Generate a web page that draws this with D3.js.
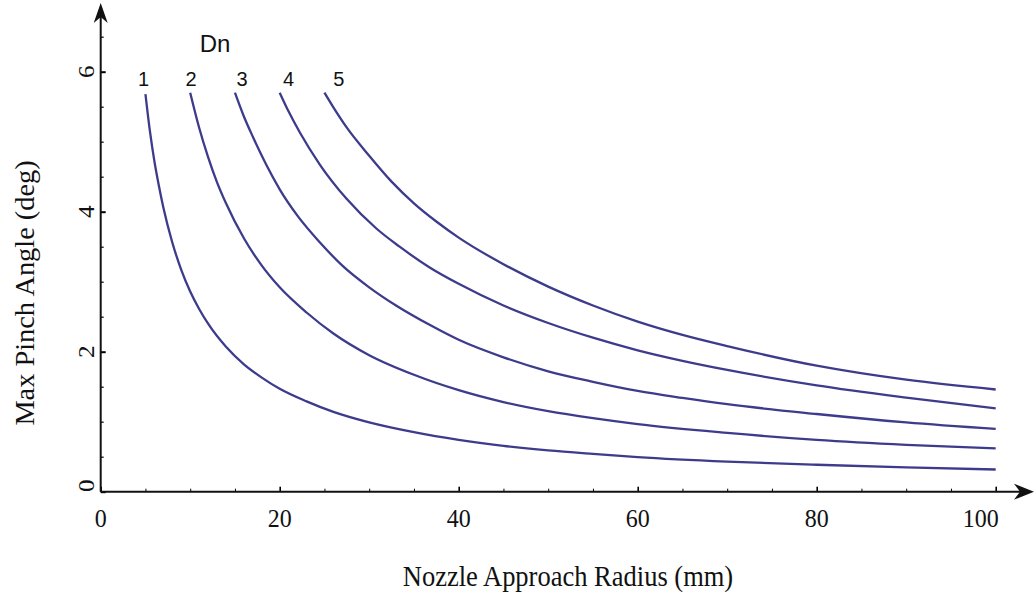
<!DOCTYPE html>
<html>
<head>
<meta charset="utf-8">
<script src="https://cdn.jsdelivr.net/npm/d3@7"></script>
<style>
  html, body { margin: 0; padding: 0; background: #fff; }
  svg { display: block; }
</style>
</head>
<body>
<svg id="chart" width="1036" height="592"></svg>
<script>
// Max pinch angle versus nozzle approach radius, one curve per Dn value
const dnValues = [1, 2, 3, 4, 5];

const radius1 = [5, 5.5, 6, 6.5, 7, 8, 9, 10, 11, 12, 14, 16, 18, 20, 23, 26, 30, 35, 40, 45, 50, 55, 60, 70, 80, 90, 100];
const angle1  = [5.68, 5.15, 4.72, 4.37, 4.06, 3.56, 3.17, 2.86, 2.61, 2.4, 2.07, 1.82, 1.63, 1.47, 1.29, 1.14, 0.99, 0.85, 0.74, 0.655, 0.59, 0.54, 0.495, 0.43, 0.385, 0.348, 0.317];

const radius2 = [10, 11, 12, 13, 14, 16, 18, 20, 23, 26, 30, 35, 40, 45, 50, 55, 60, 70, 80, 90, 100];
const angle2  = [5.7, 5.2, 4.78, 4.42, 4.12, 3.62, 3.23, 2.92, 2.56, 2.26, 1.95, 1.67, 1.45, 1.28, 1.15, 1.05, 0.965, 0.84, 0.74, 0.67, 0.62];

const radius3 = [15, 16, 17, 18.5, 20, 22, 24.5, 27, 30, 33, 36.8, 40, 45, 50, 55, 60, 65, 70, 80, 90, 100];
const angle3  = [5.7, 5.36, 5.07, 4.67, 4.32, 3.94, 3.56, 3.23, 2.92, 2.66, 2.38, 2.17, 1.92, 1.72, 1.57, 1.44, 1.34, 1.25, 1.11, 0.99, 0.896];

const radius4 = [20, 21, 22.3, 24.5, 27.5, 30.8, 33.4, 36.8, 40, 45, 50, 55, 60, 65, 70, 80, 90, 100];
const angle4  = [5.7, 5.43, 5.12, 4.67, 4.18, 3.76, 3.5, 3.2, 2.97, 2.66, 2.41, 2.2, 2.02, 1.87, 1.74, 1.52, 1.345, 1.19];

const radius5 = [25, 26, 27.5, 30, 32.5, 35, 37.5, 40, 45, 50, 55, 60, 65, 70, 80, 90, 100];
const angle5  = [5.7, 5.49, 5.2, 4.8, 4.43, 4.12, 3.86, 3.63, 3.25, 2.93, 2.66, 2.43, 2.24, 2.08, 1.8, 1.6, 1.46];

// where each Dn number sits above its curve (radius, mm)
const labelRadius = [4.8, 10.1, 15.8, 21, 26.6];

const xMajorTicks = [0, 20, 40, 60, 80, 100];
const yMajorTicks = [0, 2, 4, 6];

const radii = [radius1, radius2, radius3, radius4, radius5];
const angles = [angle1, angle2, angle3, angle4, angle5];
const series = dnValues.map((dn, i) => ({
  dn,
  points: radii[i].map((r, j) => [r, angles[i][j]])
}));

const svg = d3.select("#chart");
const x = d3.scaleLinear().domain([0, 100]).range([100.7, 995.7]);
const y = d3.scaleLinear().domain([0, 7]).range([491.7, 1.7]);

const serif = "'Liberation Serif', 'Times New Roman', serif";
const sans = "'Liberation Sans', Arial, sans-serif";
const lineColor = "#3d3b8c";
const inkColor = "#111";

// curves
const line = d3.line()
  .x(d => x(d[0]))
  .y(d => y(d[1]))
  .curve(d3.curveMonotoneX);

svg.append("g")
  .selectAll("path")
  .data(series)
  .join("path")
  .attr("d", d => line(d.points))
  .attr("fill", "none")
  .attr("stroke", lineColor)
  .attr("stroke-width", 2.3)
  .attr("stroke-linejoin", "round");

// x axis: minor ticks every 5, major every 20, pointing up into the plot
const xAxisG = svg.append("g").attr("transform", `translate(0,${y(0)})`);
xAxisG.call(d3.axisBottom(x).tickValues(d3.range(0, 101, 5)).tickSize(-3).tickFormat(""));
xAxisG.call(g => g.selectAll(".tick line")
  .attr("stroke", "#000")
  .attr("stroke-width", d => d % 20 === 0 ? 1.6 : 1)
  .attr("y2", d => d % 20 === 0 ? -5 : -3));
xAxisG.select(".domain").remove();

// y axis: minor ticks every 0.5, major every 2, pointing right into the plot
const yAxisG = svg.append("g").attr("transform", `translate(${x(0)},0)`);
yAxisG.call(d3.axisLeft(y).tickValues(d3.range(0, 6.6, 0.5)).tickSize(-3).tickFormat(""));
yAxisG.call(g => g.selectAll(".tick line")
  .attr("stroke", "#000")
  .attr("stroke-width", d => d % 2 === 0 ? 2 : 1.2)
  .attr("x2", d => d % 2 === 0 ? 5 : 3));
yAxisG.select(".domain").remove();

// axis lines with arrowheads
svg.append("line")
  .attr("x1", x(0)).attr("y1", y(0))
  .attr("x2", 1022).attr("y2", y(0))
  .attr("stroke", inkColor).attr("stroke-width", 2);
svg.append("line")
  .attr("x1", x(0)).attr("y1", y(0))
  .attr("x2", x(0)).attr("y2", 14)
  .attr("stroke", inkColor).attr("stroke-width", 2);

const xTip = 1034, yAxisY = y(0);
svg.append("path")
  .attr("d", `M${xTip},${yAxisY} L${xTip - 20},${yAxisY - 8} L${xTip - 14},${yAxisY} L${xTip - 20},${yAxisY + 8} Z`)
  .attr("fill", inkColor);
const yTip = 3, yAxisX = x(0);
svg.append("path")
  .attr("d", `M${yAxisX},${yTip} L${yAxisX - 7},${yTip + 20} L${yAxisX},${yTip + 14} L${yAxisX + 7},${yTip + 20} Z`)
  .attr("fill", inkColor);

// x tick labels
svg.append("g")
  .selectAll("text")
  .data(xMajorTicks)
  .join("text")
  .attr("transform", d => `translate(${x(d) + (d === 100 ? -15 : 0)},527) scale(1,1.08)`)
  .attr("text-anchor", "middle")
  .attr("font-family", serif)
  .attr("font-size", 24)
  .attr("fill", inkColor)
  .text(d => d);

// y tick labels, turned to read upward
svg.append("g")
  .selectAll("text")
  .data(yMajorTicks)
  .join("text")
  .attr("transform", d => `translate(94,${y(d) - (d === 0 ? 6 : 0)}) rotate(-90) scale(1.05,1)`)
  .attr("text-anchor", "middle")
  .attr("font-family", serif)
  .attr("font-size", 24)
  .attr("fill", inkColor)
  .text(d => d);

// axis titles
svg.append("text")
  .attr("transform", "translate(568,586) scale(1,1.08)")
  .attr("text-anchor", "middle")
  .attr("font-family", serif)
  .attr("font-size", 26.5)
  .attr("fill", inkColor)
  .text("Nozzle Approach Radius (mm)");

svg.append("text")
  .attr("transform", "translate(34,293) rotate(-90) scale(1.05,1)")
  .attr("text-anchor", "middle")
  .attr("font-family", serif)
  .attr("font-size", 27)
  .attr("fill", inkColor)
  .text("Max Pinch Angle (deg)");

// Dn heading and curve numbers
svg.append("text")
  .attr("x", 215)
  .attr("y", 52)
  .attr("text-anchor", "middle")
  .attr("font-family", sans)
  .attr("font-size", 24)
  .attr("fill", inkColor)
  .text("Dn");

svg.append("g")
  .selectAll("text")
  .data(series)
  .join("text")
  .attr("x", (d, i) => x(labelRadius[i]))
  .attr("y", 86)
  .attr("text-anchor", "middle")
  .attr("font-family", sans)
  .attr("font-size", 20)
  .attr("fill", inkColor)
  .text(d => d.dn);
</script>
</body>
</html>
